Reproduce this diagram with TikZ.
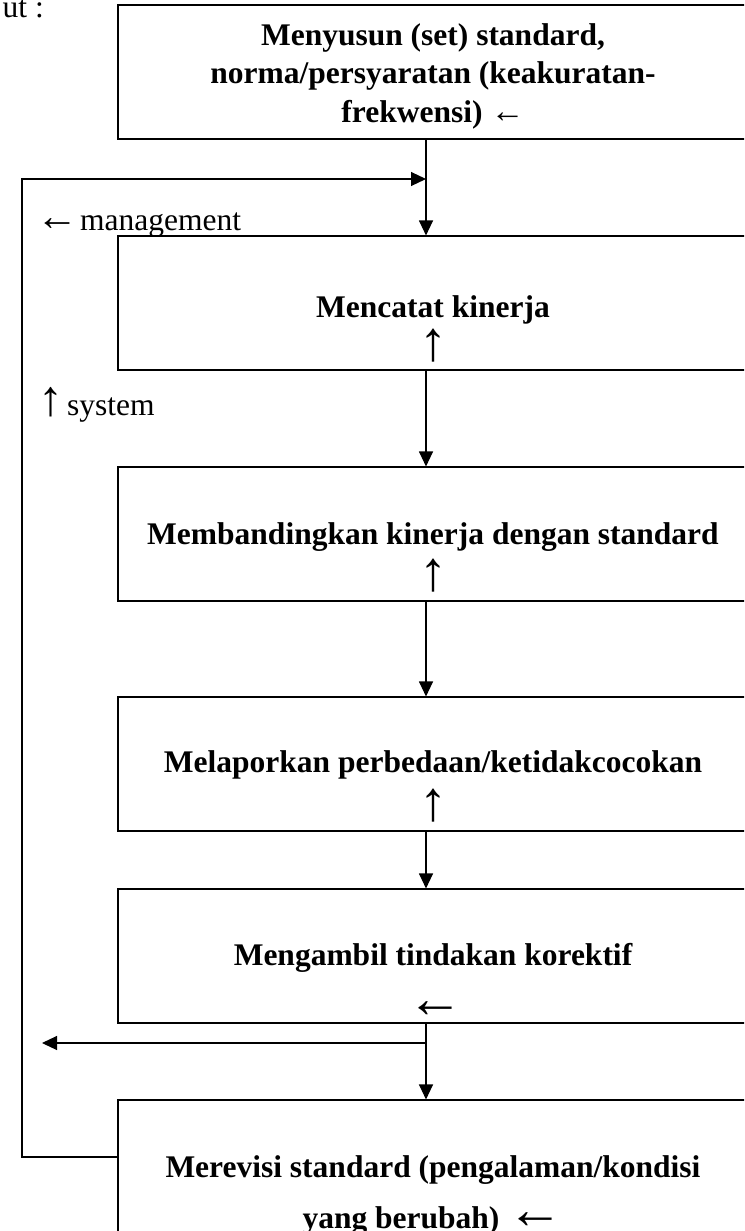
\documentclass[tikz,border=0pt]{standalone}
\usepackage{fontspec}
\setmainfont{Liberation Serif}
\usepackage{tikz}
\usetikzlibrary{positioning, arrows.meta, calc}

\newcommand{\boxfont}{\bfseries\fontsize{31.5}{38.5}\selectfont}
\newcommand{\plainfont}{\fontsize{31.5}{38}\selectfont}
\newcommand{\sizedarrow}[2]{{\mdseries\fontsize{#1}{#1}\selectfont #2}}

\begin{document}
\begin{tikzpicture}[x=1pt, y=-1pt,
  stepbox/.style={draw, line width=1.1pt, minimum width=630pt, minimum height=134pt, inner sep=0pt},
  boxtext/.style={font=\boxfont, align=center, anchor=base, inner sep=0pt},
  boxarrow/.style={font=\mdseries\fontsize{56}{56}\selectfont, anchor=base, inner sep=0pt},
  sidetext/.style={font=\plainfont, anchor=base west, inner sep=0pt},
  link/.style={line width=1.1pt},
  flow/.style={link, -{Triangle[length=15pt, width=14pt]}}]
  \path[use as bounding box, clip] (0,0) rectangle (744,1231);

  \node[stepbox] (b1) at (433,72) {};
  \node[stepbox] (b2) at (433,303) {};
  \node[stepbox] (b3) at (433,534) {};
  \node[stepbox] (b4) at (433,764) {};
  \node[stepbox] (b5) at (433,956) {};
  \node[stepbox] (b6) at (433,1167) {};

  \node[boxtext] (t1) at (433,122) {Menyusun (set) standard,\\norma/persyaratan (keakuratan-\\frekwensi) \sizedarrow{34}{←}};
  \node[boxtext] (t2) at (433,317) {Mencatat kinerja};
  \node[boxarrow] (a2) at (433,360) {↑};
  \node[boxtext] (t3) at (433,544) {Membandingkan kinerja dengan standard};
  \node[boxarrow] (a3) at (433,590) {↑};
  \node[boxtext] (t4) at (433,772) {Melaporkan perbedaan/ketidakcocokan};
  \node[boxarrow] (a4) at (433,820) {↑};
  \node[boxtext] (t5) at (433,965) {Mengambil tindakan korektif};
  \node[boxarrow] (a5) at (435,1017) {←};
  \node[boxtext] (t6) at (433,1228) {Merevisi standard (pengalaman/kondisi\\[12.5pt]yang berubah) \sizedarrow{56}{←}};

  \node[sidetext, anchor=base east] (intro) at (44,18) {ut :};
  \node[sidetext] (mgmt) at (36,230) {\sizedarrow{42}{←}\hspace{2pt}management};
  \node[sidetext] (sys) at (38,415) {\sizedarrow{50}{↑}\hspace{4pt}system};

  \coordinate (spine) at (426,0);
  \coordinate (join) at (426,179);
  \coordinate (loop) at (22,179);
  \coordinate (split) at (426,1043);
  \coordinate (back) at (42,1043);

  \draw[flow] (b1.south -| spine) -- (b2.north -| spine);
  \draw[flow] (b2.south -| spine) -- (b3.north -| spine);
  \draw[flow] (b3.south -| spine) -- (b4.north -| spine);
  \draw[flow] (b4.south -| spine) -- (b5.north -| spine);
  \draw[link] (b5.south -| spine) -- (split);
  \draw[flow] (split) -- (b6.north -| spine);
  \draw[flow] (split) -- (back);
  \draw[flow] ([yshift=10pt]b6.west) -| (loop) -- (join);
\end{tikzpicture}
\end{document}
